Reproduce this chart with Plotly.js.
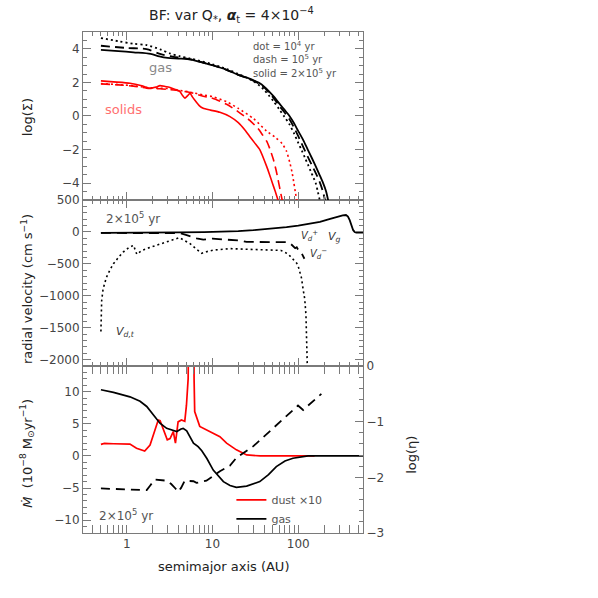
<!DOCTYPE html>
<html><head><meta charset="utf-8">
<script src="https://cdn.plot.ly/plotly-3.0.1.min.js"></script>
<style>html,body{margin:0;padding:0;background:#fff}#chart{width:598px;height:598px}</style>
</head><body><div id="chart"></div>
<script>
// ---------- Top panel: log(Sigma) ----------
const gasSolidA = [0.5,0.8,1.2,1.9,2.4,3.0,4.0,5.6,7.1,10,14.6,20,27,32,35.6,40,45,52,60,69,79,89,100,114,129,144,160,177,195,210,223,235];
const gasSolidV = [3.94,3.86,3.79,3.70,3.55,3.46,3.42,3.36,3.22,3.02,2.75,2.45,2.22,2.06,1.95,1.75,1.50,1.15,0.75,0.38,0.00,-0.42,-0.90,-1.42,-2.00,-2.50,-3.00,-3.50,-4.00,-4.45,-5.00,-5.5];
const gasDashA = [0.5,1.0,1.7,2.5,3.5,5,7.1,10,14.6,20,27,35.6,40,45,52,60,69,79,89,100,118,134,150,167,183,195,205,215];
const gasDashV = [4.18,4.05,3.98,3.68,3.52,3.42,3.24,3.02,2.75,2.45,2.20,1.90,1.70,1.42,1.05,0.62,0.22,-0.20,-0.68,-1.20,-2.00,-2.60,-3.10,-3.60,-4.10,-4.55,-5.00,-5.4];
const gasDotA = [0.5,0.8,1.2,1.71,2.5,3.2,4.2,5.5,7.1,10,14.6,20,27,35.6,40,45,52,60,69,79,89,100,110,120,130,140,150,160,169,178,190];
const gasDotV = [4.64,4.45,4.30,4.22,3.95,3.72,3.55,3.42,3.28,3.08,2.80,2.50,2.20,1.80,1.55,1.25,0.85,0.40,-0.05,-0.50,-1.02,-1.60,-2.05,-2.50,-2.90,-3.30,-3.65,-4.00,-4.50,-5.00,-5.6];
const dustSolidA = [0.5,0.7,1.09,1.5,1.87,2.2,2.44,2.8,3.2,3.8,4.18,4.5,4.77,5.1,5.47,5.8,6.2,7.0,7.8,9.5,12.2,16,20,24,27,31,35.6,42.8,46,50,54,58,62];
const dustSolidV = [2.09,2.03,1.95,1.80,1.65,1.72,1.81,1.76,1.70,1.55,1.45,1.20,1.06,1.20,1.35,1.15,0.95,0.62,0.46,0.35,0.22,-0.04,-0.40,-0.85,-1.20,-1.60,-2.00,-3.00,-3.45,-4.00,-4.50,-5.00,-5.5];
const dustDashA = [0.5,0.8,1.2,1.7,2.44,3.0,4.2,5.5,7.8,10,14.6,20,27,34,38,42.8,47,51,55,59,62,65,70];
const dustDashV = [1.91,1.85,1.78,1.66,1.62,1.58,1.50,1.40,1.18,1.05,0.70,0.25,-0.25,-0.75,-1.10,-1.50,-2.00,-2.55,-3.20,-3.95,-4.50,-5.00,-5.6];
const dustDotA = [0.5,0.8,1.2,1.7,2.44,3.2,4.2,5.5,7.8,10,14.6,20,30,42.8,55,65,73,80,85,89,93,96,100];
const dustDotV = [1.93,1.87,1.80,1.70,1.65,1.63,1.52,1.42,1.25,1.15,0.85,0.45,-0.15,-0.90,-1.30,-1.65,-2.10,-2.80,-3.40,-4.00,-4.60,-5.00,-5.5];

// ---------- Middle panel: radial velocity at 2e5 yr ----------
const vgA = [0.5,1,2,4,8,12.2,20,30,50,73,100,140,179,230,280,330,360,380,398,420,437,455,475,600];
const vgV = [-15,-15,-12,-8,-3,0,12,27,50,75,100,130,158,200,237,258,265,240,185,100,27,0,-10,-10];
const vdA = [0.5,1,2,3,4.2,5,6.5,7.8,10,14,21,25,60,73,80,87,92,96,100,110,118];
const vdV = [-15,-15,-13,-12,-20,-50,-100,-120,-105,-120,-135,-157,-157,-160,-175,-230,-255,-240,-280,-340,-420];
const vdtA = [0.5,0.505,0.51,0.53,0.58,0.64,0.70,0.8,0.91,1.05,1.2,1.31,1.5,1.8,2.24,3.0,3.83,4.1,4.5,5.47,6.5,7.5,8.5,10.2,16,25,40,63,76,87,96,100,109,114,119,123,125,127,128];
const vdtV = [-1560,-1300,-1077,-893,-710,-590,-498,-400,-315,-250,-210,-350,-290,-250,-210,-150,-105,-90,-120,-183,-270,-335,-310,-285,-262,-270,-275,-290,-345,-430,-490,-540,-720,-900,-1050,-1300,-1550,-1900,-2200];

// ---------- Bottom panel: Mdot and log(eta) ----------
const mgA = [0.5,0.7,1.09,1.43,1.71,1.95,2.44,2.92,3.83,4.3,4.55,5.0,5.5,6.0,6.8,7.5,8.6,10.2,13.4,16,19,25,35.6,45,55.5,70,86.7,110,130,600];
const mgV = [10.3,9.9,9.2,8.5,7.7,6.7,5.1,4.3,3.8,4.2,4.3,3.9,2.8,2.0,1.45,0.8,-0.4,-2.2,-4.0,-4.6,-4.9,-4.7,-4.0,-2.9,-1.67,-0.8,-0.36,-0.1,0,0];
const mdA = [0.5,0.55,0.7,1.09,1.3,1.62,1.87,2.1,2.33,2.45,2.79,2.97,3.2,3.49,3.7,3.97,4.34,4.75,4.97,5.2,5.45,5.95,6.1,6.2,7.1,9.3,12.2,14.6,17.4,19,25,36,155];
const mdV = [1.8,1.95,1.9,1.85,1.2,0.75,1.7,3.8,5.6,5.5,3.3,2.5,2.7,3.8,2.0,5.3,5.6,5.4,7.9,12,40,40,12,6.9,4.6,3.8,3.0,2.0,1.3,0.95,0.15,0,0];
const etaA = [0.5,1.0,1.71,1.87,2.12,2.9,3.3,3.7,3.97,4.3,4.75,6.0,6.5,8.5,12.2,16,19,30,46.6,72.7,99.3,114,130,186];
const etaV = [-2.20,-2.22,-2.23,-2.15,-2.04,-2.06,-2.12,-2.20,-2.26,-2.19,-2.06,-2.07,-2.10,-2.06,-1.89,-1.79,-1.65,-1.44,-1.17,-0.91,-0.71,-0.79,-0.71,-0.50];

// ---------- Ticks ----------
const xTickVals = [1,10,100];
const xTickText = ['1','10','100'];
const xMinorVals = [0.4,0.5,0.6,0.7,0.8,0.9,2,3,4,5,6,7,8,9,20,30,40,50,60,70,80,90,200,300,400,500];
const ySigTicks = [-4,-2,0,2,4];
const yVelTicks = [-2000,-1500,-1000,-500,0,500];
const yMdTicks = [-10,-5,0,5,10];
const yEtaTicks = [-3,-2,-1,0];

const FONT = 'DejaVu Sans, Liberation Sans, sans-serif';
const AX = '#7a7a7a';
const TXT = '#444';

function line(x, y, color, dash, width, xa, ya, name, showleg, smooth) {
  const ln = {color, width, dash: dash || 'solid', shape: smooth ? 'spline' : 'linear'};
  if (smooth) ln.smoothing = smooth;
  return {x, y, type:'scatter', mode:'lines', xaxis:xa, yaxis:ya, name: name || '',
    showlegend: !!showleg, hoverinfo:'skip', line: ln};
}
const DOT = '2px,3px';
const DASH = '9px,5px';

const traces = [
  line(gasDotA, gasDotV, '#000', DOT, 1.8, 'x3','y3', '', false, 0.8),
  line(gasDashA, gasDashV, '#000', DASH, 1.8, 'x3','y3', '', false, 0.8),
  line(gasSolidA, gasSolidV, '#000', 'solid', 1.8, 'x3','y3', '', false, 0.8),
  line(dustDotA, dustDotV, '#ff0000', DOT, 1.6, 'x3','y3', '', false, 0.6),
  line(dustDashA, dustDashV, '#ff0000', DASH, 1.6, 'x3','y3', '', false, 0.6),
  line(dustSolidA, dustSolidV, '#ff0000', 'solid', 1.6, 'x3','y3', '', false, 0.5),

  line(vdtA, vdtV, '#000', DOT, 1.6, 'x2','y2'),
  line(vdA, vdV, '#000', '10px,6px', 1.8, 'x2','y2'),
  line(vgA, vgV, '#000', 'solid', 1.8, 'x2','y2'),

  line(etaA, etaV, '#000', '9px,6px', 1.8, 'x','y4'),
  line(mdA, mdV, '#ff0000', 'solid', 1.7, 'x','y', 'dust ×10', true),
  line(mgA, mgV, '#000', 'solid', 1.7, 'x','y', 'gas', true)
];

function xax(anchor, showlabels) {
  return {type:'log', range:[-0.51, 2.755], anchor, domain:[0,1],
    tickmode:'array', tickvals:xTickVals, ticktext:xTickText, showticklabels:showlabels,
    ticks:'inside', ticklen:8, tickwidth:1, tickcolor:AX,
    minor:{tickmode:'array', tickvals:xMinorVals, ticks:'inside', ticklen:4, tickwidth:1, tickcolor:AX, showgrid:false},
    showline:true, linecolor:AX, linewidth:1, mirror:'allticks',
    showgrid:false, zeroline:false,
    tickfont:{family:FONT, size:12, color:TXT}};
}
function yax(range, tickvals, minorDtick, domain, anchor, mirror) {
  return {range, domain, anchor, tickmode:'array', tickvals,
    ticks:'inside', ticklen:8, tickwidth:1, tickcolor:AX,
    minor:{dtick:minorDtick, ticks:'inside', ticklen:4, tickwidth:1, tickcolor:AX, showgrid:false},
    showline:true, linecolor:AX, linewidth:1, mirror,
    showgrid:false, zeroline:false,
    tickfont:{family:FONT, size:12, color:TXT}};
}

const yEta = {range:[-3,0], overlaying:'y', side:'right', anchor:'x',
  tickmode:'array', tickvals:yEtaTicks,
  ticks:'inside', ticklen:8, tickwidth:1, tickcolor:AX,
  minor:{dtick:0.2, ticks:'inside', ticklen:4, tickwidth:1, tickcolor:AX, showgrid:false},
  showline:true, linecolor:AX, linewidth:1, showgrid:false, zeroline:false,
  tickfont:{family:FONT, size:12, color:TXT}};

function ann(text, x, y, opts) {
  return Object.assign({text, x, y, xref:'paper', yref:'paper', showarrow:false,
    xanchor:'left', yanchor:'middle', font:{family:FONT, size:11, color:TXT}}, opts || {});
}

const annotations = [
  ann('gas', 0.275, 0.930, {xanchor:'center', font:{family:FONT, size:13, color:'#888'}}),
  ann('solids', 0.146, 0.846, {xanchor:'center', font:{family:FONT, size:13, color:'#ff7070'}}),
  ann('dot = 10<sup>4</sup> yr', 0.600, 0.973, {font:{family:FONT, size:10, color:'#555'}}),
  ann('dash = 10<sup>5</sup> yr', 0.600, 0.946, {font:{family:FONT, size:10, color:'#555'}}),
  ann('solid = 2×10<sup>5</sup> yr', 0.600, 0.918, {font:{family:FONT, size:10, color:'#555'}}),
  ann('2×10<sup>5</sup> yr', 0.075, 0.629, {font:{family:FONT, size:12, color:'#555'}}),
  ann('<i>V</i><sub><i>d,t</i></sub>', 0.11, 0.401, {font:{family:FONT, size:11, color:'#333'}}),
  ann('<i>V</i><sub><i>d</i></sub><sup>+</sup>', 0.770, 0.593, {font:{family:FONT, size:10, color:'#333'}}),
  ann('<i>V</i><sub><i>g</i></sub>', 0.868, 0.590, {font:{family:FONT, size:11, color:'#333'}}),
  ann('<i>V</i><sub><i>d</i></sub><sup>−</sup>', 0.802, 0.557, {font:{family:FONT, size:10, color:'#333'}}),
  ann('2×10<sup>5</sup> yr', 0.050, 0.036, {font:{family:FONT, size:12, color:'#555'}}),
  ann('log(Σ)', -0.2, 0.83, {xanchor:'center', textangle:-90, font:{family:FONT, size:13, color:'#222'}}),
  ann('radial velocity (cm s<sup>−1</sup>)', -0.2, 0.487, {xanchor:'center', textangle:-90, font:{family:FONT, size:13, color:'#222'}}),
  ann('<i>Ṁ</i>  (10<sup>−8</sup> M<sub>⊙</sub>yr<sup>−1</sup>)', -0.2, 0.158, {xanchor:'center', textangle:-90, font:{family:FONT, size:13, color:'#222'}}),
  ann('log(η)', 1.175, 0.156, {xanchor:'center', textangle:-90, font:{family:FONT, size:13, color:'#222'}}),
  ann('semimajor axis (AU)', 0.5, -0.066, {xanchor:'center', font:{family:FONT, size:13, color:'#222'}})
];

const layout = {
  width:598, height:598,
  margin:{l:83, r:235, t:32, b:65},
  paper_bgcolor:'#fff', plot_bgcolor:'#fff',
  title:{text:'BF: var Q<sub>*</sub>, <b><i>α</i></b><sub>t</sub> = 4×10<sup>−4</sup>', x:0.53, xref:'paper', xanchor:'center', y:0.975, yanchor:'middle',
    font:{family:FONT, size:14, color:'#222'}},
  xaxis: xax('y', true),
  xaxis2: xax('y2', false),
  xaxis3: xax('y3', false),
  yaxis: yax([-12,14], yMdTicks, 1, [0,0.3333], 'x', true),
  yaxis2: yax([-2100,500], yVelTicks, 100, [0.3333,0.6647], 'x2', 'allticks'),
  yaxis3: yax([-5,5], ySigTicks, 0.5, [0.6647,1], 'x3', 'allticks'),
  yaxis4: yEta,
  showlegend:true,
  legend:{x:0.53, y:0.095, xanchor:'left', yanchor:'top', bgcolor:'rgba(0,0,0,0)',
    font:{family:FONT, size:11, color:'#555'}, itemwidth:30, tracegroupgap:0},
  annotations
};

Plotly.newPlot('chart', traces, layout, {staticPlot:true, displayModeBar:false});
</script>
</body></html>
